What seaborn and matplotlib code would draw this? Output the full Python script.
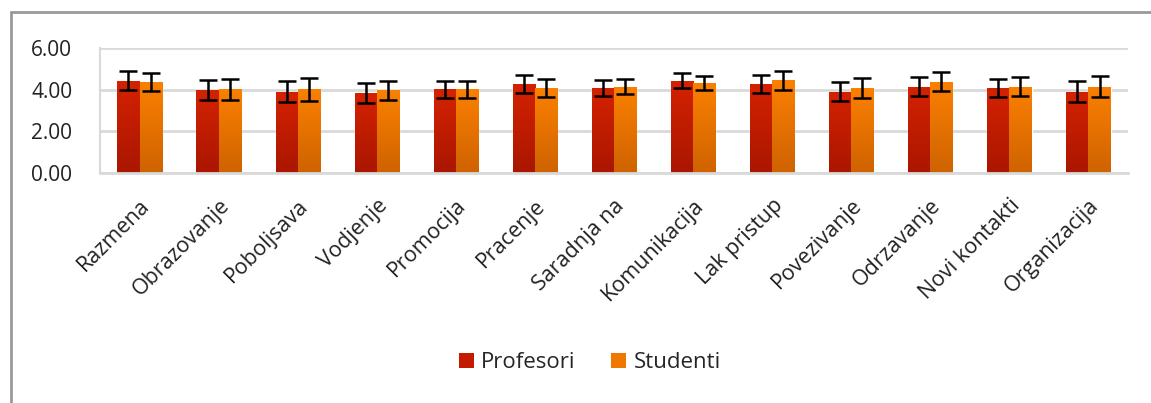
import numpy as np
import pandas as pd
import matplotlib
matplotlib.use("Agg")
import matplotlib.pyplot as plt
import seaborn as sns
from matplotlib.colors import LinearSegmentedColormap
from matplotlib.lines import Line2D
from matplotlib.patches import Patch

categories = ["Razmena", "Obrazovanje", "Poboljsava", "Vodjenje", "Promocija",
              "Pracenje", "Saradnja na", "Komunikacija", "Lak pristup",
              "Povezivanje", "Odrzavanje", "Novi kontakti", "Organizacija"]
profesori = [4.44, 3.97, 3.90, 3.84, 4.01, 4.28, 4.08, 4.44, 4.28, 3.90, 4.15, 4.08, 3.90]
studenti = [4.39, 4.01, 4.01, 3.97, 4.01, 4.08, 4.15, 4.33, 4.45, 4.08, 4.39, 4.15, 4.15]
profesori_err = [0.45, 0.47, 0.50, 0.47, 0.42, 0.42, 0.38, 0.35, 0.44, 0.46, 0.45, 0.42, 0.50]
studenti_err = [0.43, 0.50, 0.53, 0.45, 0.42, 0.42, 0.38, 0.35, 0.45, 0.48, 0.45, 0.44, 0.52]
series = ["Profesori", "Studenti"]
yticks = [0, 2, 4, 6]

colors = {"Profesori": "#c41a00", "Studenti": "#f07800"}
grad = {"Profesori": ("#d42200", "#aa1600"), "Studenti": ("#fb8000", "#cf6300")}

df = pd.DataFrame({
    "cat": categories * 2,
    "val": profesori + studenti,
    "err": profesori_err + studenti_err,
    "grp": ["Profesori"] * len(categories) + ["Studenti"] * len(categories),
})

sns.set_style("white")
plt.rcParams["font.family"] = ["Open Sans", "DejaVu Sans"]

fig = plt.figure(figsize=(11.51, 4.03), dpi=100)
ax = fig.add_axes([100 / 1151, 1 - 173 / 403, 1028 / 1151, 125 / 403])

sns.barplot(data=df, x="cat", y="val", hue="grp", palette=colors,
            errorbar=None, width=0.56, gap=0, dodge=True, ax=ax,
            saturation=1, legend=False)

# gradient fill + error bars
for cont, name, errs in zip(ax.containers, series, [profesori_err, studenti_err]):
    cmap = LinearSegmentedColormap.from_list(name, [grad[name][1], grad[name][0]])
    xs, ys = [], []
    for patch, e in zip(cont.patches, errs):
        x0, y0 = patch.get_x(), patch.get_y()
        w, h = patch.get_width(), patch.get_height()
        im = ax.imshow(np.linspace(0, 1, 64).reshape(-1, 1), cmap=cmap,
                       extent=[x0, x0 + w, y0, y0 + h], origin="lower",
                       aspect="auto", zorder=2)
        im.set_clip_path(patch)
        xs.append(x0 + w / 2)
        ys.append(y0 + h)
    ax.errorbar(xs, ys, yerr=errs, fmt="none", ecolor="black",
                elinewidth=1.8, capsize=6.5, capthick=1.8, zorder=4)

ax.set_xlim(-0.5, len(categories) - 0.5)
ax.set_ylim(0, 6)
ax.set_yticks(yticks)
ax.set_yticklabels([f"{v:.2f}" for v in yticks], fontsize=15, color="#222222")
ax.set_xticks(range(len(categories)))
ax.set_xticklabels(categories, rotation=45, ha="right", rotation_mode="anchor",
                   fontsize=15.5, color="#222222")
ax.tick_params(axis="y", length=0, pad=20)
ax.tick_params(axis="x", length=0, pad=16)
ax.set_xlabel("")
ax.set_ylabel("")
ax.grid(axis="y", color="#d9d9d9", linewidth=2)
ax.set_axisbelow(True)
for s in ["top", "right"]:
    ax.spines[s].set_visible(False)
ax.spines["left"].set_color("#d9d9d9")
ax.spines["left"].set_linewidth(1.5)
ax.spines["bottom"].set_color("#d9d9d9")
ax.spines["bottom"].set_linewidth(2)

handles = [Patch(facecolor=colors[s], edgecolor="none", label=s) for s in series]
fig.legend(handles=handles, loc="center", bbox_to_anchor=(590 / 1151, 1 - 363 / 403),
           ncol=2, frameon=False, fontsize=16, handlelength=0.65, handleheight=0.65,
           handletextpad=0.35, columnspacing=1.6)

# outer chart frame (left and top edges visible)
fig.add_artist(Line2D([10.5 / 1151, 10.5 / 1151], [0, 1 - 12 / 403], color="#999999", lw=2))
fig.add_artist(Line2D([10.5 / 1151, 1], [1 - 12 / 403, 1 - 12 / 403], color="#999999", lw=2))

fig.savefig("out.png", dpi=100)
